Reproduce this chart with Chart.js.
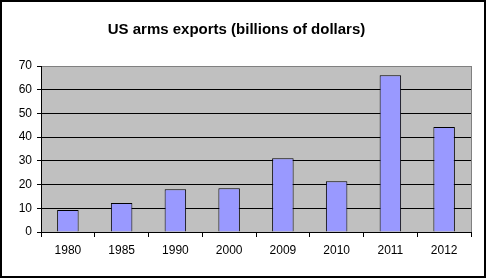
<!DOCTYPE html>
<html>
<head>
<meta charset="utf-8">
<script src="https://cdn.jsdelivr.net/npm/chart.js@4"></script>
<style>
  html, body { margin: 0; padding: 0; background: #fff; }
  #box { width: 482px; height: 274px; border: 2px solid #000; position: relative; }
</style>
</head>
<body>
<div id="box"><canvas id="myChart"></canvas></div>
<script>
const years = ['1980', '1985', '1990', '2000', '2009', '2010', '2011', '2012'];
const exports = [9.3, 12.2, 18, 18.4, 31.1, 21.4, 66.1, 44.3];
const yTicks = [0, 10, 20, 30, 40, 50, 60, 70];

// grey plot area + grey right edge, like the old excel charts
const plotBack = {
  id: 'plotBack',
  beforeDraw(chart) {
    const a = chart.chartArea;
    const c = chart.ctx;
    c.save();
    c.fillStyle = '#c0c0c0';
    c.fillRect(a.left, a.top, a.right - a.left, a.bottom - a.top);
    c.strokeStyle = '#808080';
    c.lineWidth = 1;
    c.beginPath();
    c.moveTo(Math.round(a.right) + 0.5, a.top);
    c.lineTo(Math.round(a.right) + 0.5, a.bottom);
    c.stroke();
    c.restore();
  }
};

const ctx = document.getElementById('myChart');
const font = { family: "'Liberation Sans', Arial, sans-serif", size: 12 };

new Chart(ctx, {
  type: 'bar',
  data: {
    labels: years,
    datasets: [{
      data: exports,
      backgroundColor: '#9999ff',
      borderColor: '#000',
      borderWidth: 1,
      barPercentage: 0.4,
      categoryPercentage: 1
    }]
  },
  options: {
    responsive: true,
    maintainAspectRatio: false,
    animation: false,
    layout: { padding: { left: 0, right: 13, top: 0, bottom: 0 } },
    plugins: {
      legend: { display: false },
      tooltip: { enabled: false },
      title: {
        display: true,
        text: 'US arms exports (billions of dollars)',
        color: '#000',
        font: { family: "'Liberation Sans', Arial, sans-serif", size: 15, weight: 'bold' },
        padding: { top: 19, bottom: 27 }
      }
    },
    scales: {
      x: {
        offset: true,
        grid: {
          offset: true,
          drawOnChartArea: false,
          drawTicks: true,
          tickLength: 5,
          tickColor: '#000'
        },
        border: { color: '#000', width: 1 },
        ticks: { color: '#000', font: font, padding: 6, maxRotation: 0 },
        afterFit(scale) { scale.height = 44; }
      },
      y: {
        min: 0,
        max: 70,
        afterBuildTicks(scale) { scale.ticks = yTicks.map(v => ({ value: v })); },
        grid: {
          color: c => (c.tick && c.tick.value === 70) ? '#808080' : '#000',
          tickColor: '#000',
          tickLength: 4
        },
        border: { color: '#000', width: 1 },
        ticks: { color: '#000', font: font, padding: 5 },
        afterFit(scale) { scale.width = 39; }
      }
    }
  },
  plugins: [plotBack]
});
</script>
</body>
</html>
